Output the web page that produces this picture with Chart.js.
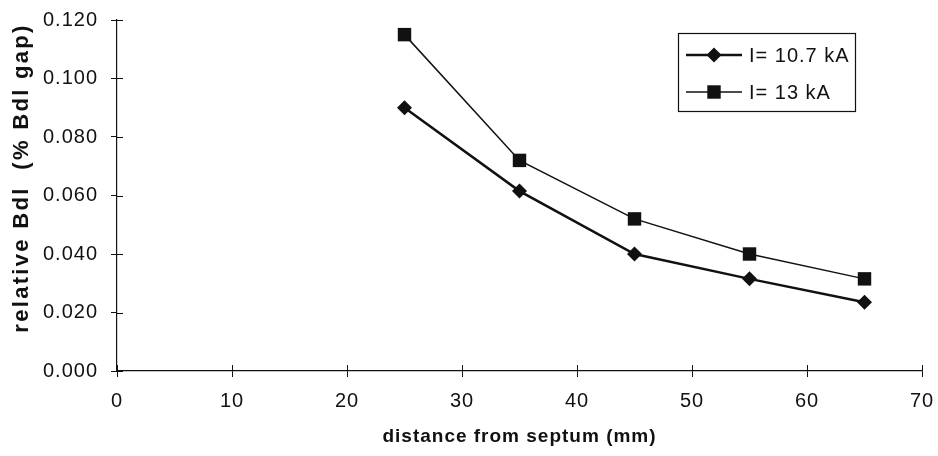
<!DOCTYPE html>
<html>
<head>
<meta charset="utf-8">
<script src="https://cdn.jsdelivr.net/npm/chart.js@4/dist/chart.umd.min.js"></script>
<style>
  html, body { margin: 0; padding: 0; background: #fff; }
  #wrap { width: 938px; height: 456px; position: relative; }
</style>
</head>
<body>
<div id="wrap"><canvas id="c" width="938" height="456"></canvas></div>
<script>
// ---- data ----
const distances = [25, 35, 45, 55, 65];
const bdl_10_7kA = [0.090, 0.0615, 0.040, 0.0315, 0.0235];
const bdl_13kA = [0.115, 0.072, 0.052, 0.040, 0.0315];
const seriesLabels = ['I= 10.7 kA', 'I= 13 kA'];
const xTitle = 'distance from septum (mm)';
const yTitle = 'relative Bdl  (% Bdl gap)';
const xTicks = [0, 10, 20, 30, 40, 50, 60, 70];
const yTicks = [0, 0.02, 0.04, 0.06, 0.08, 0.10, 0.12];

const FONT = "'Liberation Sans', Arial, sans-serif";
const INK = '#111';

const spacing = {
  id: 'spacing',
  beforeUpdate(chart) { chart.ctx.letterSpacing = '1px'; },
  beforeDraw(chart) { chart.ctx.letterSpacing = '1px'; }
};

const innerTicks = {
  id: 'innerTicks',
  afterDraw(chart) {
    const ctx = chart.ctx, xs = chart.scales.x, ys = chart.scales.y, ca = chart.chartArea;
    ctx.save();
    ctx.strokeStyle = INK; ctx.lineWidth = 1;
    ctx.beginPath();
    xTicks.forEach(v => { const px = Math.round(xs.getPixelForValue(v)) + 0.5; ctx.moveTo(px, ca.bottom); ctx.lineTo(px, ca.bottom - 6); });
    yTicks.forEach(v => { const py = Math.round(ys.getPixelForValue(v)) + 0.5; ctx.moveTo(ca.left, py); ctx.lineTo(ca.left + 6, py); });
    ctx.stroke();
    ctx.restore();
  }
};

const yTitlePlugin = {
  id: 'yTitlePlugin',
  afterDraw(chart) {
    const ctx = chart.ctx;
    ctx.save();
    ctx.letterSpacing = '2.3px';
    ctx.font = "bold 22px " + FONT;
    ctx.fillStyle = INK;
    ctx.textAlign = 'center';
    ctx.textBaseline = 'middle';
    ctx.translate(22, 178);
    ctx.rotate(-Math.PI / 2);
    ctx.fillText(yTitle, 0, 0);
    ctx.restore();
  }
};

const legendPlugin = {
  id: 'boxLegend',
  afterDraw(chart) {
    const ctx = chart.ctx;
    const box = { x: 678.5, y: 33.5, w: 177, h: 78 };
    ctx.save();
    ctx.strokeStyle = INK; ctx.lineWidth = 1.2;
    ctx.strokeRect(box.x, box.y, box.w, box.h);
    const rows = [55, 92];
    chart.data.datasets.forEach((ds, i) => {
      const y = rows[i];
      ctx.strokeStyle = INK;
      ctx.lineWidth = ds.borderWidth;
      ctx.beginPath(); ctx.moveTo(686, y); ctx.lineTo(742, y); ctx.stroke();
      ctx.fillStyle = INK;
      ctx.beginPath();
      if (ds.pointStyle === 'rectRot') {
        const r = ds.pointRadius;
        ctx.moveTo(714, y - r); ctx.lineTo(714 + r, y); ctx.lineTo(714, y + r); ctx.lineTo(714 - r, y); ctx.closePath();
      } else {
        const h = ds.pointRadius * Math.SQRT1_2;
        ctx.rect(714 - h, y - h, 2 * h, 2 * h);
      }
      ctx.fill();
      ctx.font = "20px " + FONT;
      ctx.textAlign = 'left'; ctx.textBaseline = 'middle';
      ctx.fillText(ds.label, 749, y + 1);
    });
    ctx.restore();
  }
};

new Chart(document.getElementById('c'), {
  type: 'line',
  data: {
    datasets: [
      {
        label: seriesLabels[0],
        data: distances.map((d, i) => ({ x: d, y: bdl_10_7kA[i] })),
        borderColor: INK, backgroundColor: INK,
        borderWidth: 2.5, pointStyle: 'rectRot', pointRadius: 7.5,
        pointBorderWidth: 0, tension: 0
      },
      {
        label: seriesLabels[1],
        data: distances.map((d, i) => ({ x: d, y: bdl_13kA[i] })),
        borderColor: INK, backgroundColor: INK,
        borderWidth: 1.5, pointStyle: 'rect', pointRadius: 9.5,
        pointBorderWidth: 0, tension: 0
      }
    ]
  },
  options: {
    responsive: false,
    animation: false,
    layout: { padding: { left: 0, right: 16, top: 20, bottom: 0 } },
    plugins: { legend: { display: false }, tooltip: { enabled: false } },
    scales: {
      x: {
        type: 'linear', min: 0, max: 70,
        afterBuildTicks: s => { s.ticks = xTicks.map(v => ({ value: v })); },
        afterFit: s => { s.height = 85; s.paddingLeft = 0; s.paddingRight = 0; },
        grid: { drawOnChartArea: false, tickLength: 6, tickColor: INK, tickWidth: 1 },
        border: { color: INK, width: 1.2 },
        ticks: { color: INK, font: { family: FONT, size: 20 }, padding: 12, maxRotation: 0 },
        title: { display: true, text: xTitle, color: INK, font: { family: FONT, size: 19, weight: 'bold' }, padding: { top: 0, bottom: 8 } }
      },
      y: {
        type: 'linear', min: 0, max: 0.12,
        afterBuildTicks: s => { s.ticks = yTicks.map(v => ({ value: v })); },
        afterFit: s => { s.width = 117; s.paddingTop = 0; s.paddingBottom = 0; },
        grid: { drawOnChartArea: false, tickLength: 6, tickColor: INK, tickWidth: 1 },
        border: { color: INK, width: 1.2 },
        ticks: { color: INK, font: { family: FONT, size: 20 }, padding: 13, callback: v => Number(v).toFixed(3) }
      }
    }
  },
  plugins: [spacing, innerTicks, yTitlePlugin, legendPlugin]
});
</script>
</body>
</html>
